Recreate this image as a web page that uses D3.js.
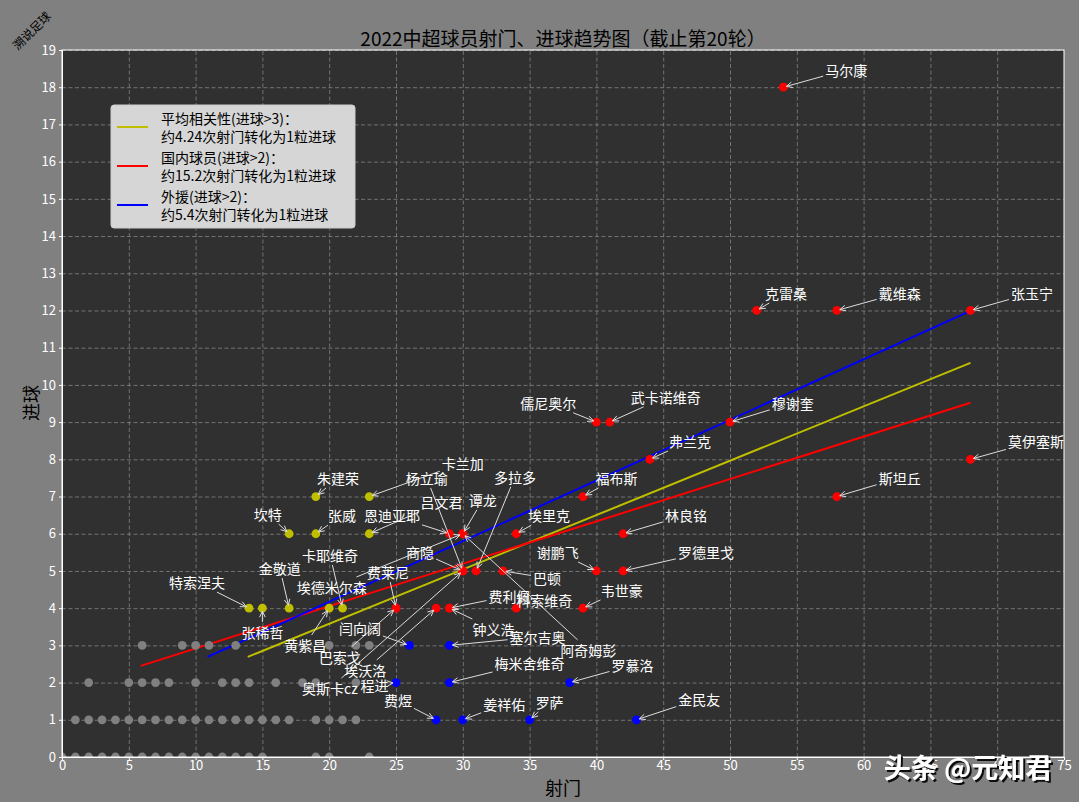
<!DOCTYPE html>
<html><head><meta charset="utf-8">
<script src="https://cdn.jsdelivr.net/npm/d3@7"></script>
<style>body{margin:0;background:#808080;} svg{display:block;}</style>
</head><body>
<script>
// ---------- data ----------
const xTickValues = [0,5,10,15,20,25,30,35,40,45,50,55,60,65,70,75];
const yTickValues = [0,1,2,3,4,5,6,7,8,9,10,11,12,13,14,15,16,17,18,19];

// grey players (goals 0-3, few shots), one list of shot counts per goal value
const greyShotsGoals0 = [0,1,2,3,4,5,6,7,8,9,10,11,12,13,14,15,19,20,23];
const greyShotsGoals1 = [1,2,3,4,5,6,7,8,9,10,11,12,13,14,15,16,17,19,20,21,22];
const greyShotsGoals2 = [2,5,6,7,8,10,12,13,14,16,18,19,22];
const greyShotsGoals3 = [6,9,10,11,13,20,22,23];

const yellowNames = ["朱建荣","坎特","张威","特索涅夫","张稀哲","金敬道","黄紫昌","卡耶维奇","卡兰加","吕文君"];
const yellowShots = [19,17,19,14,15,17,20,21,23,23];
const yellowGoals = [7,6,6,4,4,4,4,4,7,6];

const redNames = ["马尔康","克雷桑","戴维森","张玉宁","莫伊塞斯","斯坦丘","穆谢奎","儒尼奥尔","武卡诺维奇","弗兰克","福布斯","林良铭","埃里克","谢鹏飞","罗德里戈","韦世豪","巴顿","多拉多","商隐","杨立瑜","奥斯卡cz","谭龙","埃德米尔森","阿奇姆彭","恩迪亚耶","费莱尼","巴索戈","埃沃洛","费利佩","钟义浩","科索维奇"];
const redShots = [54,52,58,68,68,58,50,40,41,44,39,42,34,40,42,39,33,31,30,30,30,30,30,30,29,25,25,28,29,29,34];
const redGoals = [18,12,12,12,8,7,9,9,9,8,7,6,6,5,5,4,5,5,5,5,5,6,6,6,6,4,4,4,4,4,4];

const blueNames = ["闫向阔","塞尔吉奥","程进","梅米舍维奇","罗慕洛","费煜","姜祥佑","罗萨","金民友"];
const blueShots = [26,29,25,29,38,28,30,35,43];
const blueGoals = [3,3,2,2,2,1,1,1,1];

// trend lines (shots range, goals at ends)
const avgLineShots = [13.9, 68];   const avgLineGoals = [2.69, 10.59];
const domLineShots = [5.9, 68];    const domLineGoals = [2.45, 9.52];
const forLineShots = [10.9, 68];   const forLineGoals = [2.69, 11.99];

const legendLabels = [
  ["平均相关性(进球>3)：","约4.24次射门转化为1粒进球"],
  ["国内球员(进球>2)：","约15.2次射门转化为1粒进球"],
  ["外援(进球>2)：","约5.4次射门转化为1粒进球"]
];

// annotation text anchor (in data coordinates, like matplotlib xytext)
const labelAt = {
  "马尔康":[58.7,18.47],"克雷桑":[54.2,12.47],"戴维森":[62.7,12.47],"张玉宁":[72.6,12.47],
  "莫伊塞斯":[72.9,8.49],"斯坦丘":[62.7,7.5],"穆谢奎":[54.7,9.52],"儒尼奥尔":[36.4,9.52],
  "武卡诺维奇":[45.2,9.68],"弗兰克":[47.0,8.49],"福布斯":[41.5,7.5],"林良铭":[46.7,6.5],
  "埃里克":[36.45,6.5],"谢鹏飞":[37.1,5.51],"罗德里戈":[48.2,5.51],"韦世豪":[41.9,4.49],
  "巴顿":[36.3,4.81],"多拉多":[33.9,7.53],"商隐":[26.8,5.51],"杨立瑜":[27.3,7.5],
  "奥斯卡cz":[20.06,1.85],"谭龙":[31.5,6.91],"埃德米尔森":[20.2,4.57],"阿奇姆彭":[39.4,2.88],
  "恩迪亚耶":[24.7,6.5],"费莱尼":[24.4,4.97],"巴索戈":[20.8,2.69],"埃沃洛":[22.7,2.34],
  "费利佩":[33.5,4.33],"钟义浩":[32.3,3.44],"科索维奇":[36.1,4.22],
  "朱建荣":[20.66,7.5],"坎特":[15.4,6.53],"张威":[20.96,6.5],"特索涅夫":[10.1,4.7],
  "张稀哲":[15.0,3.36],"金敬道":[16.3,5.08],"黄紫昌":[18.2,3.01],"卡耶维奇":[20.06,5.43],
  "卡兰加":[30.0,7.9],"吕文君":[28.4,6.85],
  "闫向阔":[22.3,3.47],"塞尔吉奥":[35.6,3.23],"程进":[23.4,1.94],"梅米舍维奇":[35.0,2.53],
  "罗慕洛":[42.7,2.47],"费煜":[25.15,1.53],"姜祥佑":[33.1,1.42],"罗萨":[36.5,1.48],"金民友":[47.7,1.56]
};

// ---------- layout ----------
const W = 1079, H = 802;
const L = 62, T = 50, R = 1064, B = 757;
const FONT = "'Noto Sans CJK SC','Noto Sans',sans-serif";
const COL = {grey:"#808080", yellow:"#bfbf00", red:"#ff0000", blue:"#0000ff"};

const x = d3.scaleLinear().domain([0,75]).range([L,R]);
const y = d3.scaleLinear().domain([0,19]).range([B,T]);

const svg = d3.select("body").append("svg").attr("width",W).attr("height",H)
  .style("font-family",FONT);
const defs = svg.append("defs");
defs.append("clipPath").attr("id","clip")
  .append("rect").attr("x",L).attr("y",T).attr("width",R-L).attr("height",B-T);
defs.append("filter").attr("id","shadow").attr("x","-10%").attr("y","-30%").attr("width","130%").attr("height","170%")
  .append("feDropShadow").attr("dx",2).attr("dy",2).attr("stdDeviation",0.6).attr("flood-color","#111").attr("flood-opacity",1);

svg.append("rect").attr("width",W).attr("height",H).attr("fill","#808080");
svg.append("rect").attr("x",L).attr("y",T).attr("width",R-L).attr("height",B-T).attr("fill","#2f302f");

// grid
const grid = svg.append("g");
grid.append("g").attr("transform",`translate(0,${B})`)
  .call(d3.axisBottom(x).tickValues(xTickValues).tickSize(-(B-T)).tickFormat(""))
  .call(g=>g.select(".domain").remove())
  .call(g=>g.selectAll("line").attr("stroke","#8a8a8a").attr("stroke-opacity",0.75).attr("stroke-dasharray","4,2.5"));
grid.append("g").attr("transform",`translate(${L},0)`)
  .call(d3.axisLeft(y).tickValues(yTickValues).tickSize(-(R-L)).tickFormat(""))
  .call(g=>g.select(".domain").remove())
  .call(g=>g.selectAll("line").attr("stroke","#8a8a8a").attr("stroke-opacity",0.75).attr("stroke-dasharray","4,2.5"));

const plot = svg.append("g").attr("clip-path","url(#clip)");

// trend lines
const lineGen = d3.line().x(d=>x(d[0])).y(d=>y(d[1]));
[[avgLineShots,avgLineGoals,COL.yellow],[domLineShots,domLineGoals,COL.red],[forLineShots,forLineGoals,COL.blue]]
.forEach(([xs,ys,c])=>{
  plot.append("path").datum(xs.map((v,i)=>[v,ys[i]])).attr("d",lineGen)
    .attr("fill","none").attr("stroke",c).attr("stroke-width",2);
});

// points
const greyPts = [];
[[greyShotsGoals0,0],[greyShotsGoals1,1],[greyShotsGoals2,2],[greyShotsGoals3,3]].forEach(([arr,g])=>arr.forEach(s=>greyPts.push({s,g,c:COL.grey})));
const mk = (names,shots,goals,c)=>names.map((n,i)=>({name:n,s:shots[i],g:goals[i],c}));
const yellowPts = mk(yellowNames,yellowShots,yellowGoals,COL.yellow);
const redPts = mk(redNames,redShots,redGoals,COL.red);
const bluePts = mk(blueNames,blueShots,blueGoals,COL.blue);
const allPts = greyPts.concat(yellowPts,redPts,bluePts);
plot.selectAll("circle.pt").data(allPts).enter().append("circle").attr("class","pt")
  .attr("cx",d=>x(d.s)).attr("cy",d=>y(d.g)).attr("r",4.4).attr("fill",d=>d.c);

// spines & ticks
const axX = svg.append("g").attr("transform",`translate(0,${B})`)
  .call(d3.axisBottom(x).tickValues(xTickValues).tickSize(3).tickPadding(1).tickFormat(d3.format("d")));
const axY = svg.append("g").attr("transform",`translate(${L},0)`)
  .call(d3.axisLeft(y).tickValues(yTickValues).tickSize(3).tickPadding(3).tickFormat(d3.format("d")));
[axX,axY].forEach(a=>{
  a.selectAll("path,line").attr("stroke","#ffffff");
  a.selectAll("text").attr("fill","#ffffff").style("font-size","13px").style("font-family",FONT);
});
svg.append("rect").attr("x",L).attr("y",T).attr("width",R-L).attr("height",B-T)
  .attr("fill","none").attr("stroke","#ffffff").attr("stroke-width",1);

// annotations
const ann = svg.append("g");
const labelled = yellowPts.concat(redPts,bluePts);
labelled.forEach(d=>{
  const lp = labelAt[d.name];
  const tx = x(lp[0]), ty = y(lp[1]);
  const t = ann.append("text").attr("x",tx).attr("y",ty).attr("text-anchor","middle")
    .attr("dominant-baseline","central").attr("fill","#ffffff").style("font-size","14px").text(d.name);
  const bb = t.node().getBBox();
  const hw = bb.width/2+2, hh = bb.height/2;
  const px = x(d.s), py = y(d.g);
  const dx = px-tx, dy = py-ty;
  const len = Math.hypot(dx,dy);
  let k = Math.min(dx!==0?hw/Math.abs(dx):Infinity, dy!==0?hh/Math.abs(dy):Infinity);
  if (k>=1) return;
  const sx = tx+dx*k, sy = ty+dy*k;
  const ux = dx/len, uy = dy/len;
  const ex = px-ux*3, ey = py-uy*3;
  const g = ann.insert("g","text");
  g.append("line").attr("x1",sx).attr("y1",sy).attr("x2",ex).attr("y2",ey)
    .attr("stroke","#dddddd").attr("stroke-width",1);
  const hl=6, hwid=2.8;
  const bx = ex-ux*hl, by = ey-uy*hl;
  g.append("path").attr("d",`M${bx-uy*hwid},${by+ux*hwid}L${ex},${ey}L${bx+uy*hwid},${by-ux*hwid}`)
    .attr("fill","none").attr("stroke","#dddddd").attr("stroke-width",1);
});

// legend
const lg = svg.append("g");
lg.append("rect").attr("x",111).attr("y",105).attr("width",244).attr("height",123).attr("rx",3)
  .attr("fill","#d6d6d6").attr("stroke","#cccccc");
const legCols = [COL.yellow, COL.red, COL.blue];
legendLabels.forEach((lines,i)=>{
  const y0 = 118 + i*39;
  lg.append("line").attr("x1",117).attr("x2",148).attr("y1",y0+9).attr("y2",y0+9)
    .attr("stroke",legCols[i]).attr("stroke-width",2);
  lines.forEach((s,j)=>{
    lg.append("text").attr("x",161).attr("y",y0+j*18).attr("dominant-baseline","central")
      .attr("fill","#000").style("font-size","14px").text(s);
  });
});

// titles
svg.append("text").attr("x",(L+R)/2).attr("y",37).attr("text-anchor","middle").attr("dominant-baseline","central")
  .attr("fill","#000").style("font-size","19px").text("2022中超球员射门、进球趋势图（截止第20轮）");
svg.append("text").attr("x",(L+R)/2).attr("y",787).attr("text-anchor","middle").attr("dominant-baseline","central")
  .attr("fill","#000").style("font-size","18px").text("射门");
svg.append("text").attr("transform","translate(30,403) rotate(-90)").attr("text-anchor","middle").attr("dominant-baseline","central")
  .attr("fill","#000").style("font-size","18px").text("进球");
svg.append("text").attr("transform","translate(31,30) rotate(-45)").attr("text-anchor","middle").attr("dominant-baseline","central")
  .attr("fill","#000").style("font-size","12px").text("溯说足球");

// watermark (drop shadow via filter)
svg.append("text").attr("x",968).attr("y",766).attr("text-anchor","middle").attr("dominant-baseline","central")
  .attr("fill","#ffffff").attr("filter","url(#shadow)").style("font-size","27px").style("font-weight","bold").text("头条 @元知君");
</script>
</body></html>
